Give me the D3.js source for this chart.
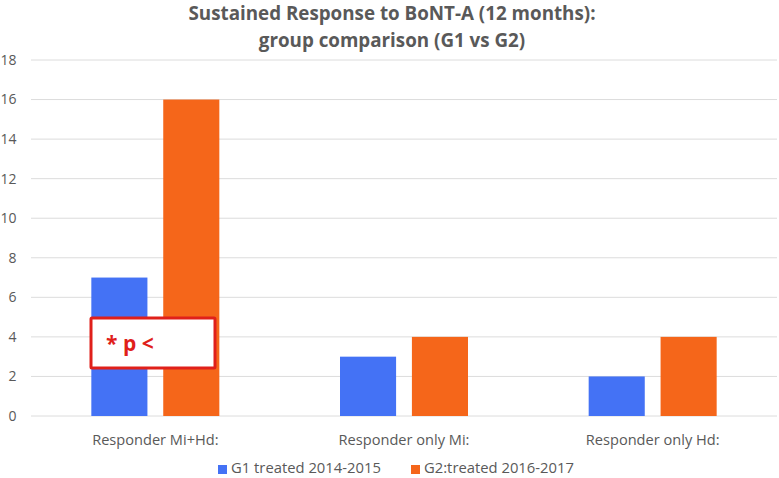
<!DOCTYPE html>
<html><head><meta charset="utf-8">
<script src="https://cdn.jsdelivr.net/npm/d3@7"></script>
<style>body{margin:0;background:#fff}svg{display:block}</style>
</head><body><svg id="c" width="779" height="478"></svg>
<script>
const categories = ["Responder Mi+Hd:", "Responder only Mi:", "Responder only Hd:"];
const seriesNames = ["G1 treated 2014-2015", "G2:treated 2016-2017"];
const g1Values = [7, 3, 2];
const g2Values = [16, 4, 4];
const yTicks = [0, 2, 4, 6, 8, 10, 12, 14, 16, 18];
const titleLines = ["Sustained Response to BoNT-A (12 months):", "group comparison (G1 vs G2)"];
const annotation = "* p <";
const colors = ["#4472F5", "#F5661A"];

const svg = d3.select("#c");
const font = "'Open Sans', 'Liberation Sans', sans-serif";
const gray = "#595959";

const y = d3.scaleLinear().domain([0, 18]).range([416, 60]);
const x0 = d3.scaleBand().domain(categories).range([31, 777]).paddingInner(0).paddingOuter(0);
const x1 = d3.scaleBand().domain([0, 1]).range([0, 128]).paddingInner(0.22);

// gridlines
svg.append("g").selectAll("line").data(yTicks).join("line")
  .attr("x1", 31).attr("x2", 777)
  .attr("y1", d => y(d)).attr("y2", d => y(d))
  .attr("stroke", "#DCDCDC").attr("stroke-width", 1);

// y tick labels
svg.append("g").selectAll("text").data(yTicks).join("text")
  .attr("x", 16.5).attr("y", d => y(d)).attr("dy", "0.35em")
  .attr("text-anchor", "end").attr("font-family", font).attr("font-size", 14)
  .attr("fill", gray).text(d => d);

// bars
const data = categories.map((c, i) => ({c, vals: [g1Values[i], g2Values[i]]}));
const grp = svg.append("g").selectAll("g").data(data).join("g")
  .attr("transform", d => `translate(${x0(d.c) + x0.bandwidth()/2 - 64},0)`);
grp.selectAll("rect").data(d => d.vals.map((v, k) => ({v, k}))).join("rect")
  .attr("x", d => x1(d.k)).attr("width", x1.bandwidth())
  .attr("y", d => y(d.v)).attr("height", d => y(0) - y(d.v))
  .attr("fill", d => colors[d.k]);

// category labels
svg.append("g").selectAll("text").data(categories).join("text")
  .attr("x", d => x0(d) + x0.bandwidth()/2).attr("y", 445)
  .attr("text-anchor", "middle").attr("font-family", font).attr("font-size", 14.6)
  .attr("fill", gray).text(d => d);

// title
svg.append("g").selectAll("text").data(titleLines).join("text")
  .attr("x", 392).attr("y", (d, i) => 20 + i * 27)
  .attr("text-anchor", "middle").attr("font-family", font).attr("font-size", 18.8)
  .attr("font-weight", "bold").attr("fill", gray).text(d => d);

// legend
const legX = [218, 411];
const leg = svg.append("g").selectAll("g").data(seriesNames).join("g")
  .attr("transform", (d, i) => `translate(${legX[i]},473)`);
leg.append("rect").attr("width", 9).attr("height", 9).attr("y", -8).attr("fill", (d, i) => colors[i]);
leg.append("text").attr("x", 13).attr("y", 0).attr("font-family", font).attr("font-size", 14.8)
  .attr("fill", gray).text(d => d);

// annotation box
const ann = svg.append("g");
ann.append("rect").attr("x", 91).attr("y", 318).attr("width", 124).attr("height", 50)
  .attr("fill", "#fff").attr("stroke", "#E0201A").attr("stroke-width", 3).attr("rx", 1);
ann.append("text").attr("x", 106).attr("y", 351).attr("font-family", font)
  .attr("font-size", 21).attr("font-weight", "bold").attr("fill", "#E0201A").text(annotation);
</script></body></html>
